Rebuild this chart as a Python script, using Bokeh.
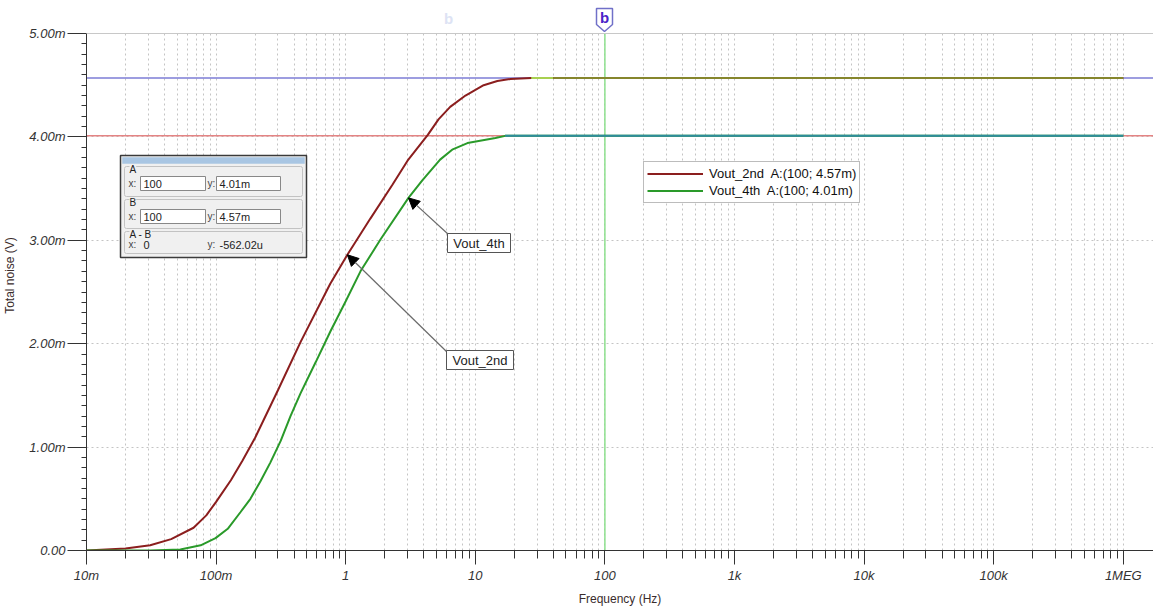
import numpy as np
from bokeh.plotting import figure
from bokeh.models import (Span, Label, BoxAnnotation, Arrow, NormalHead, Legend, LegendItem,
                          FixedTicker, CustomJSTickFormatter, PolyAnnotation, Range1d)
from bokeh.embed import file_html
from bokeh.resources import INLINE

# ---------------- data ----------------
freq_2nd = [0.01, 0.02, 0.031, 0.045, 0.067, 0.084, 0.1, 0.13, 0.16, 0.2, 0.3, 0.45, 0.76, 1.03,
            1.55, 2.3, 3.0, 4.3, 5.2, 6.4, 8.4, 11.6, 14.8, 18.7, 27, 40, 100, 1e3, 1e4, 1e5, 1e6]
vout_2nd = [0.0, 0.02, 0.05, 0.11, 0.22, 0.34, 0.47, 0.68, 0.87, 1.09, 1.55, 2.02, 2.58, 2.86,
            3.21, 3.54, 3.77, 4.02, 4.17, 4.29, 4.40, 4.50, 4.54, 4.56, 4.57, 4.57, 4.57, 4.57, 4.57, 4.57, 4.57]

freq_4th = [0.01, 0.031, 0.053, 0.076, 0.099, 0.123, 0.154, 0.184, 0.22, 0.262, 0.315, 0.375, 0.448,
            0.586, 0.763, 1.0, 1.3, 1.86, 3.05, 3.9, 5.35, 6.7, 8.7, 14.3, 17, 100, 1e3, 1e4, 1e5, 1e6]
vout_4th = [0.0, 0.0, 0.01, 0.05, 0.12, 0.21, 0.37, 0.50, 0.67, 0.85, 1.06, 1.30, 1.52,
            1.82, 2.12, 2.41, 2.70, 3.01, 3.41, 3.58, 3.78, 3.88, 3.94, 3.99, 4.01, 4.01, 4.01, 4.01, 4.01, 4.01]

x_tick_values = [0.01, 0.1, 1, 10, 100, 1e3, 1e4, 1e5, 1e6]
x_tick_labels = ["10m", "100m", "1", "10", "100", "1k", "10k", "100k", "1MEG"]
y_tick_values = [0, 1, 2, 3, 4, 5]
y_tick_labels = ["0.00", "1.00m", "2.00m", "3.00m", "4.00m", "5.00m"]

cursor_x = 100
cursor_a = 4.01
cursor_b = 4.57

legend_labels = ["Vout_2nd  A:(100; 4.57m)", "Vout_4th  A:(100; 4.01m)"]
readout_a = ["100", "4.01m"]
readout_b = ["100", "4.57m"]
readout_diff = ["0", "-562.02u"]
arrow_freqs = [1.03, 3.05]   # where the annotation arrows point (Vout_2nd, Vout_4th)

# ---------------- layout (page px) ----------------
FONT = "Liberation Sans"
W, H = 1153, 608
FL, FB = 86, 550          # frame left / bottom in page px
TOP5 = 33                 # page y of the 5.00m line
Y_MAX = 5.0
px_per_unit = (FB - TOP5) / Y_MAX
y_end = FB / px_per_unit  # frame reaches the top of the page
DEC = 129.6
x_end = 10 ** (-2 + (W - FL) / DEC)

def sx(px):
    return px - FL
def sy(py):
    return FB - py

p = figure(width=W, height=H, x_axis_type="log",
           x_range=Range1d(0.01, x_end), y_range=Range1d(0, y_end),
           output_backend="svg", toolbar_location=None,
           min_border_left=FL, min_border_right=0, min_border_top=0, min_border_bottom=H - FB,
           background_fill_color="white", border_fill_color="white")
p.outline_line_color = None

# ticks
minor_x = [m * 10.0 ** e for e in range(-2, 6) for m in range(2, 10)]
p.xaxis.ticker = FixedTicker(ticks=x_tick_values, minor_ticks=minor_x)
p.yaxis.ticker = FixedTicker(ticks=y_tick_values, minor_ticks=[i / 10 for i in range(51)])
p.yaxis.bounds = (0, Y_MAX)
p.xaxis.formatter = CustomJSTickFormatter(args=dict(vals=x_tick_values, labs=x_tick_labels), code="""
    let best = 0, bd = Infinity;
    for (let i = 0; i < vals.length; i++) {
        const d = Math.abs(Math.log10(vals[i]) - Math.log10(tick));
        if (d < bd) { bd = d; best = i; }
    }
    return labs[best];
""")
p.yaxis.formatter = CustomJSTickFormatter(args=dict(vals=y_tick_values, labs=y_tick_labels), code="""
    let best = 0, bd = Infinity;
    for (let i = 0; i < vals.length; i++) {
        const d = Math.abs(vals[i] - tick);
        if (d < bd) { bd = d; best = i; }
    }
    return labs[best];
""")

for ax in (p.xaxis[0], p.yaxis[0]):
    ax.axis_line_color = "#333333"
    ax.major_tick_line_color = "#333333"
    ax.minor_tick_line_color = "#333333"
    ax.major_tick_in = 0
    ax.minor_tick_in = 0
    ax.major_label_text_font = FONT
    ax.major_label_text_font_style = "italic"
    ax.major_label_text_font_size = "13px"
    ax.major_label_text_color = "#333333"
    ax.axis_label_text_font = FONT
    ax.axis_label_text_font_style = "normal"
    ax.axis_label_text_font_size = "12px"
    ax.axis_label_text_color = "#3a2c2c"

p.xaxis.major_tick_out = 14
p.xaxis.minor_tick_out = 8
p.xaxis.major_label_standoff = 3
p.xaxis.axis_label = "Frequency (Hz)"
p.xaxis.axis_label_standoff = 6
p.yaxis.major_tick_out = 19
p.yaxis.minor_tick_out = 5
p.yaxis.major_label_standoff = 2
p.yaxis.axis_label = "Total noise (V)"
p.yaxis.axis_label_standoff = 9

p.xgrid.grid_line_color = "#c4c4c4"
p.xgrid.grid_line_dash = "2 3"
p.xgrid.minor_grid_line_color = "#c4c4c4"
p.xgrid.minor_grid_line_dash = "2 3"
p.ygrid.grid_line_color = "#c4c4c4"
p.ygrid.grid_line_dash = "2 3"

# cursors (beneath the traces)
p.add_layout(Span(location=cursor_b, dimension="width", line_color="#7c7cd6", line_width=1.5, level="underlay"))
p.add_layout(Span(location=cursor_a, dimension="width", line_color="#e48484", line_width=1.5, level="underlay"))
p.add_layout(Span(location=cursor_x, dimension="height", line_color="#8ee08e", line_width=1.5, level="underlay"))

# traces
r2 = p.line(freq_2nd, vout_2nd, line_color="#8b1e1e", line_width=2)
r4 = p.line(freq_4th, vout_4th, line_color="#2a9a2a", line_width=2)
f2, v2 = np.array(freq_2nd), np.array(vout_2nd)
f4, v4 = np.array(freq_4th), np.array(vout_4th)
m_lt = (f2 >= 27) & (f2 <= 40)
p.line(f2[m_lt], v2[m_lt], line_color="#a8d050", line_width=2)
m2 = f2 >= 40
p.line(f2[m2], v2[m2], line_color="#86862c", line_width=2)
m4 = f4 >= 17
p.line(f4[m4], v4[m4], line_color="#2e8c9e", line_width=2)

# blank strip above the 5.00m line, with its border line (drawn on top of everything)
p.add_layout(BoxAnnotation(bottom=Y_MAX, fill_color="white", fill_alpha=1.0, line_alpha=0.0,
                           level="overlay"))
p.add_layout(Span(location=Y_MAX, dimension="width", line_color="#c8c8c8", line_width=1,
                  level="overlay"))

# legend
legend = Legend(items=[LegendItem(label=legend_labels[0], renderers=[r2]),
                       LegendItem(label=legend_labels[1], renderers=[r4])],
                location=(sx(643), sy(203)))
legend.border_line_color = "#7a7a7a"
legend.border_line_width = 1
legend.background_fill_alpha = 1
legend.padding = 3
legend.spacing = 0
legend.margin = 0
legend.label_height = 17
legend.glyph_height = 17
legend.glyph_width = 56
legend.label_standoff = 6
legend.label_text_font = FONT
legend.label_text_font_size = "13px"
legend.label_text_color = "#111111"
p.add_layout(legend, "center")

# annotation arrows + labels
def log_interp(f, fs, vs):
    return float(np.interp(np.log10(f), np.log10(fs), vs))

tip2 = (arrow_freqs[0], log_interp(arrow_freqs[0], freq_2nd, vout_2nd))
tip4 = (arrow_freqs[1], log_interp(arrow_freqs[1], freq_4th, vout_4th))
for (x0, y0), tip in (((447, 352), tip2), ((448, 234), tip4)):
    p.add_layout(Arrow(end=NormalHead(size=11, fill_color="black", line_color="black"),
                       x_start=sx(x0), y_start=sy(y0), start_units="screen",
                       x_end=tip[0], y_end=tip[1], end_units="data",
                       line_color="#6a6a6a", line_width=1.2))

def box(l, t, r, b, fill="white", line="#555555", lw=1.0, radius=0, falpha=1.0, level="annotation"):
    p.add_layout(BoxAnnotation(left=sx(l), right=sx(r), top=sy(t), bottom=sy(b),
                               left_units="screen", right_units="screen",
                               top_units="screen", bottom_units="screen",
                               fill_color=fill, fill_alpha=falpha, line_color=line,
                               line_alpha=1.0, line_width=lw, border_radius=radius, level=level))

def text(px, py, s, size="11px", color="#222222", align="left", bold=False, bg=None, level="annotation"):
    lab = Label(x=sx(px), y=sy(py), x_units="screen", y_units="screen", text=s,
                text_font=FONT, text_font_size=size, text_color=color,
                text_align=align, text_baseline="middle",
                text_font_style="bold" if bold else "normal", level=level)
    if bg is not None:
        lab.background_fill_color = bg
        lab.background_fill_alpha = 1
    p.add_layout(lab)

box(447, 233, 510, 252, line="#555555")
text(478.5, 242.5, "Vout_4th", size="13px", align="center")
box(446, 350, 513, 369, line="#555555")
text(479.5, 359.5, "Vout_2nd", size="13px", align="center")

# cursor readout panel
box(120, 155, 306, 257, fill="#f0f0f0", line="#3a3a3a", lw=1.5)
box(122, 157, 304, 163, fill="#a9c6e3", line="#a9c6e3", lw=0.5)
PANEL = "#f0f0f0"
groups = [(166, 196, "A", readout_a), (199, 228, "B", readout_b)]
for top, bot, name, vals in groups:
    box(124, top, 302, bot, fill=PANEL, line="#c2c2c2", radius=2)
    text(129, top + 3, name, size="10px", bg=PANEL)
    row = top + 17
    text(128, row, "x:", size="10px", color="#444444")
    box(140, row - 7, 205, row + 7, fill="white", line="#888888")
    text(143, row, vals[0], size="11px")
    text(207, row, "y:", size="10px", color="#444444")
    box(216, row - 7, 280, row + 7, fill="white", line="#888888")
    text(219, row, vals[1], size="11px")
box(124, 231, 302, 253, fill=PANEL, line="#c2c2c2", radius=2)
text(129, 234, "A - B", size="10px", bg=PANEL)
text(128, 244, "x:", size="10px", color="#444444")
text(143, 244, readout_diff[0], size="11px")
text(207, 244, "y:", size="10px", color="#444444")
text(219, 244, readout_diff[1], size="11px")

# cursor marker at the top
mx = [596, 612, 612, 604, 596]
my = [8, 8, 24, 31, 24]
p.add_layout(PolyAnnotation(xs=[sx(v) for v in mx], ys=[sy(v) for v in my],
                            xs_units="screen", ys_units="screen",
                            fill_color="white", fill_alpha=1.0, line_color="#7070c8",
                            line_alpha=1.0, line_width=1.5, level="overlay"))
text(604, 17, "b", size="15px", color="#4a22c8", align="center", bold=True, level="overlay")
text(448, 18, "b", size="15px", color="#dde3f4", align="center", bold=True, level="overlay")

open("out.html", "w").write(file_html(p, INLINE))
